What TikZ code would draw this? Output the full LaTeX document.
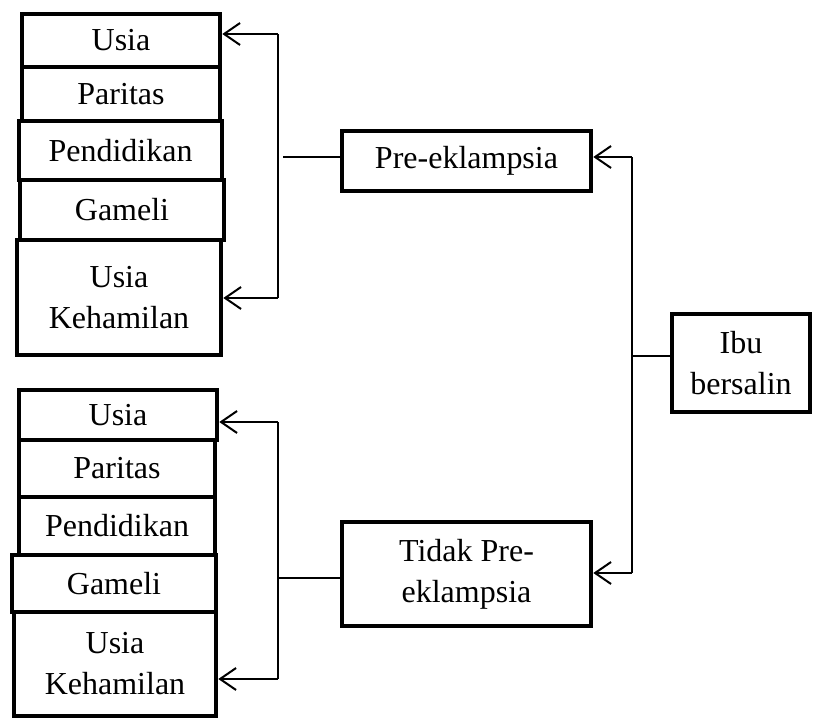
\documentclass[tikz,border=0pt]{standalone}
\usepackage{fontspec}
\setmainfont{Liberation Serif}
\usetikzlibrary{arrows.meta}
\begin{document}
\begin{tikzpicture}[x=1pt,y=-1pt,
  box/.style={draw, line width=4.6pt, align=center, inner sep=0pt,
    font=\fontsize{32}{41}\selectfont},
  link/.style={line width=2pt},
  arr/.style={link, -{Straight Barb[length=16pt,width=22pt]}}]
\useasboundingbox (0,0) rectangle (814,720);

% upper group of factors
\node[box, minimum width=198pt, minimum height=53pt] (u1) at (121,40.5) {Usia};
\node[box, minimum width=198pt, minimum height=54pt] (p1) at (121,94) {Paritas};
\node[box, minimum width=203pt, minimum height=59pt] (d1) at (120.5,150.5) {Pendidikan};
\node[box, minimum width=204pt, minimum height=60pt] (g1) at (122,210) {Gameli};
\node[box, minimum width=204pt, minimum height=115pt] (k1) at (119,297.5) {Usia\\Kehamilan};

% lower group of factors
\node[box, minimum width=198pt, minimum height=50pt] (u2) at (118,415) {Usia};
\node[box, minimum width=196pt, minimum height=57pt] (p2) at (117,468.5) {Paritas};
\node[box, minimum width=196pt, minimum height=58pt] (d2) at (117,526) {Pendidikan};
\node[box, minimum width=204pt, minimum height=57pt] (g2) at (114,583.5) {Gameli};
\node[box, minimum width=202pt, minimum height=104pt] (k2) at (115,664) {Usia\\Kehamilan};

% outcome groups and population
\node[box, minimum width=249pt, minimum height=60pt] (pre) at (466.5,161) {Pre-eklampsia};
\node[box, minimum width=249pt, minimum height=104pt] (tid) at (466.5,574) {Tidak Pre-\\eklampsia};
\node[box, minimum width=138pt, minimum height=98pt] (ibu) at (741,363) {Ibu\\bersalin};

% population splits into the two groups
\coordinate (r1) at (632,157);
\coordinate (r2) at (632,573);
\coordinate (r3) at (632,356);
\draw[link] (r1) -- (r2);
\draw[arr] (r1) -- (r1 -| pre.east);
\draw[arr] (r2) -- (r2 -| tid.east);
\draw[link] (r3) -- (r3 -| ibu.west);

% upper bracket
\coordinate (a1) at (278,34);
\coordinate (a2) at (278,298);
\coordinate (a3) at (283,157);
\draw[link] (a1) -- (a2);
\draw[arr] (a1) -- (a1 -| u1.east);
\draw[arr] (a2) -- (a2 -| k1.east);
\draw[link] (a3) -- (a3 -| pre.west);

% lower bracket
\coordinate (b1) at (278,422);
\coordinate (b2) at (278,679);
\coordinate (b3) at (278,578);
\draw[link] (b1) -- (b2);
\draw[arr] (b1) -- (b1 -| u2.east);
\draw[arr] (b2) -- (b2 -| k2.east);
\draw[link] (b3) -- (b3 -| tid.west);
\end{tikzpicture}
\end{document}
